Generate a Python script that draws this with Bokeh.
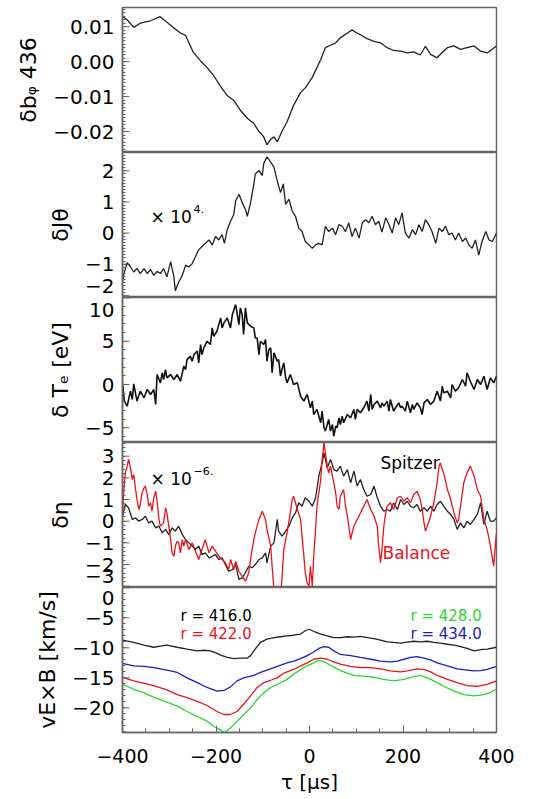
import numpy as np
from bokeh.plotting import figure
from bokeh.layouts import column
from bokeh.models import Label, FixedTicker, CustomJSTickFormatter, Range1d
from bokeh.embed import file_html
from bokeh.resources import INLINE

FONT = "DejaVu Sans"

# ---------------- data ----------------
x_ticks = [-400, -200, 0, 200, 400]

# panel 1: delta b_phi 436
tau_b = [-400, -390, -376, -362, -340, -320, -305, -290, -276, -265,
         -258, -249, -233, -219, -205, -191, -176, -162, -148, -133,
         -119, -108, -98, -91, -84, -76, -69, -59, -48, -34,
         -19, -9, 6, 16, 24, 34, 45, 56, 66, 81,
         91, 98, 109, 123, 138, 152, 166, 180, 195, 209,
         223, 237, 248, 259, 273, 280, 295, 309, 323, 337,
         352, 366, 380, 400]
db = [0.0129, 0.0120, 0.0098, 0.0110, 0.0117, 0.0129, 0.0113, 0.0096, 0.0082, 0.0075,
      0.0054, 0.0028, 0.0002, -0.0017, -0.0040, -0.0069, -0.0097, -0.0111, -0.0139, -0.0162,
      -0.0177, -0.0200, -0.0215, -0.0238, -0.0224, -0.0215, -0.0229, -0.0200, -0.0172, -0.0125,
      -0.0088, -0.0075, -0.0045, -0.0017, 0.0006, 0.0040, 0.0047, 0.0054, 0.0068, 0.0082,
      0.0091, 0.0085, 0.0077, 0.0066, 0.0058, 0.0054, 0.0040, 0.0032, 0.0030, 0.0025,
      0.0028, 0.0019, 0.0044, 0.0021, 0.0011, 0.0021, 0.0040, 0.0045, 0.0035, 0.0040,
      0.0045, 0.0030, 0.0025, 0.0045]
ticks_b = [-0.02, -0.01, 0.0, 0.01]

# panel 2: delta J_theta (x 1e4)
tau_j = [-400, -396, -390, -383, -376, -369, -362, -354, -347, -340,
         -333, -326, -319, -312, -305, -297, -290, -287, -280, -272,
         -265, -258, -251, -244, -237, -230, -223, -215, -208, -201,
         -194, -187, -182, -176, -169, -162, -158, -151, -144, -137,
         -133, -126, -119, -116, -108, -101, -98, -91, -83, -76,
         -69, -62, -56, -51, -44, -37, -30, -23, -16, -9,
         -1, 6, 13, 20, 27, 34, 41, 49, 56, 63,
         70, 77, 84, 91, 98, 106, 113, 120, 127, 134,
         141, 148, 155, 163, 170, 177, 184, 191, 198, 205,
         213, 220, 227, 234, 241, 248, 255, 262, 270, 277,
         284, 291, 298, 305, 312, 319, 327, 334, 341, 348,
         355, 362, 369, 377, 384, 391, 400]
dj = [-1.58, -1.25, -0.95, -1.09, -1.25, -1.14, -1.30, -1.14, -1.30, -1.17,
      -1.36, -1.23, -1.30, -1.14, -1.41, -0.92, -1.41, -1.85, -1.58, -1.36,
      -1.03, -1.09, -0.98, -0.76, -0.54, -0.43, -0.33, -0.22, -0.38, -0.11,
      -0.22, -0.05, -0.33, 0.11, 0.38, 0.60, 1.03, 1.25, 0.98, 0.76,
      0.54, 0.98, 1.58, 1.90, 2.01, 1.85, 2.23, 2.45, 2.28, 2.12,
      1.68, 1.30, 1.58, 0.92, 1.09, 0.71, 0.54, 0.16, 0.05, -0.27,
      -0.38, -0.49, -0.38, -0.33, -0.38, 0.22, 0.05, 0.16, -0.05, 0.27,
      0.22, 0.05, 0.33, -0.11, 0.16, -0.16, 0.33, 0.43, 0.33, 0.54,
      0.27, 0.38, 0.03, 0.49, 0.27, 0.00, 0.49, 0.27, 0.65, 0.00,
      -0.16, 0.11, -0.05, 0.27, 0.05, 0.43, 0.27, 0.05, -0.33, 0.16,
      0.05, 0.22, -0.05, 0.00, -0.22, 0.00, -0.27, -0.16, -0.38, -0.49,
      -0.22, -0.71, -0.27, 0.05, -0.22, -0.27, 0.00]
ticks_j = [-2, -1, 0, 1, 2]

# panel 3: delta T_e [eV]
tau_t = [-400, -396, -390, -383, -379, -376, -369, -362, -354, -347,
         -340, -333, -329, -326, -319, -315, -312, -308, -305, -297,
         -290, -283, -276, -272, -269, -265, -262, -255, -251, -247,
         -240, -237, -233, -230, -226, -219, -212, -208, -205, -198,
         -190, -187, -183, -176, -169, -165, -158, -155, -151, -148,
         -144, -141, -137, -133, -126, -119, -116, -112, -108, -105,
         -98, -94, -91, -87, -83, -80, -76, -69, -66, -62,
         -59, -55, -51, -48, -41, -34, -26, -19, -12, -5,
         2, 6, 9, 16, 24, 27, 31, 34, 41, 45,
         49, 52, 56, 59, 63, 66, 70, 73, 81, 88,
         95, 98, 102, 109, 116, 123, 127, 131, 134, 138,
         145, 152, 155, 159, 166, 170, 173, 180, 184, 191,
         195, 198, 205, 209, 216, 220, 223, 230, 237, 241,
         245, 252, 259, 266, 273, 280, 284, 287, 295, 302,
         305, 312, 319, 327, 334, 337, 344, 352, 359, 366,
         373, 380, 387, 394, 400]
dte = [0.19, -1.92, -2.50, -0.77, -1.73, 0.08, -1.92, -0.77, -1.54, -0.58,
       -1.15, -0.58, -2.31, 1.15, 0.19, 1.35, 0.58, 1.73, 0.77, 1.15,
       0.58, 1.15, 0.38, 1.35, 2.12, 1.73, 2.88, 3.27, 2.69, 3.46,
       3.85, 2.50, 4.62, 3.46, 4.23, 5.00, 4.62, 6.54, 5.58, 6.15,
       7.69, 6.54, 7.12, 7.69, 6.54, 8.08, 9.23, 8.27, 6.92, 8.85,
       8.08, 5.77, 8.85, 7.12, 6.73, 6.54, 5.38, 5.38, 3.46, 5.00,
       4.62, 5.19, 2.69, 4.04, 4.23, 1.35, 3.65, 2.69, 2.88, 0.96,
       1.73, 2.50, 0.77, 0.19, 1.15, 0.00, 0.19, -1.35, -1.92, -1.15,
       -2.69, -1.92, -3.46, -2.88, -4.42, -3.08, -5.00, -5.38, -4.04, -5.38,
       -4.62, -5.96, -4.81, -5.00, -3.85, -4.62, -3.65, -4.42, -3.46, -3.85,
       -2.88, -4.04, -2.88, -3.27, -2.69, -1.92, -3.08, -1.15, -2.88, -2.31,
       -1.92, -2.69, -2.12, -2.50, -1.92, -3.08, -1.73, -3.08, -2.69, -2.12,
       -2.69, -2.50, -3.08, -1.92, -3.27, -2.31, -2.88, -2.12, -2.69, -3.46,
       -2.12, -1.73, -2.31, -1.92, -0.77, -1.92, -0.19, -0.96, -0.77, -1.54,
       0.00, -0.77, -0.38, 0.58, -0.19, 1.35, 0.38, -0.58, 0.58, 0.00,
       0.96, -0.58, 0.77, 0.19, 0.96]
ticks_t = [-5, 0, 5, 10]

# panel 4: delta eta (x 1e-6), Spitzer (black) and Balance (red)
tau_sp = [-400, -394, -387, -379, -372, -365, -358, -351, -344, -337,
          -329, -322, -315, -308, -301, -294, -287, -280, -272, -265,
          -258, -251, -244, -237, -230, -223, -215, -208, -201, -194,
          -187, -180, -173, -165, -158, -151, -144, -137, -130, -123,
          -116, -108, -101, -94, -91, -83, -76, -69, -66, -59,
          -51, -44, -37, -30, -23, -16, -9, -1, 6, 13,
          20, 27, 31, 38, 45, 52, 59, 66, 73, 81,
          88, 95, 102, 109, 116, 123, 131, 138, 145, 152,
          159, 166, 173, 180, 188, 195, 202, 209, 216, 223,
          230, 237, 245, 252, 259, 266, 273, 280, 287, 295,
          302, 309, 316, 323, 330, 337, 344, 352, 359, 366,
          373, 380, 387, 394, 400]
eta_sp = [0.23, 0.77, 0.62, 0.08, 0.15, 0.00, 0.08, 0.23, -0.08, 0.00,
          -0.31, -0.23, -0.54, -0.38, -0.62, -0.31, -0.46, -0.23, -0.62, -0.85,
          -1.00, -1.15, -1.31, -1.15, -1.54, -1.46, -1.69, -1.62, -1.54, -1.77,
          -1.69, -2.00, -2.31, -2.23, -2.00, -2.69, -2.62, -2.38, -2.08, -2.15,
          -2.00, -1.77, -1.69, -1.46, -1.92, -1.15, -1.00, 0.08, -0.46, -0.69,
          -0.46, -0.23, 0.15, 0.38, 0.85, 0.69, 1.08, 0.92, 0.69, 1.08,
          2.08, 2.69, 3.15, 2.46, 2.85, 2.38, 2.31, 2.54, 2.08, 2.38,
          1.77, 2.31, 1.62, 1.92, 1.46, 1.15, 1.23, 1.62, 1.08, 0.69,
          0.46, 0.54, 0.46, 0.85, 0.54, 1.00, 0.77, 0.92, 0.69, 0.62,
          0.77, 0.46, 0.62, 0.46, 0.69, 0.46, 0.77, 0.92, 0.69, 0.46,
          0.31, 0.08, -0.38, -0.08, -0.31, 0.00, -0.15, 0.08, 0.31, 0.85,
          -0.15, 0.46, 0.00, 0.00, 0.15]
tau_bal = [-400, -397, -394, -390, -387, -383, -379, -376, -372, -369,
           -365, -362, -358, -354, -351, -347, -344, -340, -337, -333,
           -329, -326, -322, -319, -312, -308, -305, -301, -297, -294,
           -290, -287, -283, -280, -276, -272, -269, -265, -258, -251,
           -244, -237, -230, -223, -215, -208, -201, -194, -187, -180,
           -173, -169, -162, -158, -151, -144, -137, -130, -126, -123,
           -119, -116, -108, -101, -94, -91, -83, -80, -76, -69,
           -62, -59, -55, -48, -41, -37, -34, -26, -19, -16,
           -12, -9, -5, -1, 2, 6, 9, 13, 16, 20,
           24, 27, 31, 34, 38, 41, 45, 49, 52, 56,
           59, 63, 66, 73, 77, 81, 88, 91, 95, 102,
           109, 116, 123, 131, 138, 145, 148, 152, 155, 159,
           163, 166, 173, 180, 188, 195, 202, 209, 216, 223,
           230, 237, 241, 245, 248, 252, 259, 266, 273, 277,
           280, 284, 287, 295, 302, 309, 316, 319, 323, 330,
           337, 344, 352, 359, 366, 369, 373, 380, 387, 394,
           398, 400]
eta_bal = [0.38, 1.46, 2.23, 2.54, 2.85, 2.46, 1.92, 2.15, 1.46, 1.00,
           0.54, 0.77, 1.31, 1.54, 1.62, 1.23, 0.69, 0.85, 0.46, 1.08,
           1.38, 0.92, 0.08, -0.23, -0.08, 0.62, 0.38, -0.23, -0.85, -1.46,
           -1.62, -1.15, -0.92, -1.00, -1.46, -0.85, -1.15, -0.85, -1.31, -1.00,
           -1.38, -1.77, -1.31, -0.85, -1.46, -1.15, -1.38, -1.62, -1.77, -1.92,
           -2.23, -1.77, -2.23, -1.85, -2.31, -2.54, -2.77, -2.38, -1.77, -1.31,
           -0.85, -0.54, 0.08, 0.46, 0.08, -0.38, -1.15, -2.08, -3.15, -3.62,
           -3.46, -2.69, -1.31, -0.54, 0.38, 1.00, 1.15, 0.54, 0.08, -0.69,
           -1.62, -2.38, -2.85, -3.00, -2.08, -3.00, -1.62, -0.38, 0.69, 1.31,
           1.92, 2.85, 3.62, 3.15, 2.54, 2.23, 2.54, 2.08, 1.77, 1.31,
           0.69, 0.54, 1.15, 1.46, 0.69, 0.23, -0.85, -0.54, -0.23, 0.08,
           0.38, 0.69, 1.00, 0.54, 0.23, -0.23, -1.15, -1.92, -1.31, -0.23,
           0.38, 0.69, 0.85, 0.54, 1.08, 1.15, 0.92, 1.08, 0.85, 1.23,
           1.38, 1.00, 0.54, -0.08, -0.46, -0.23, 0.23, 0.85, 1.77, 2.54,
           2.69, 2.38, 2.23, 1.46, 1.00, 0.38, -0.08, 0.08, 0.69, 1.77,
           2.23, 2.54, 2.08, 1.46, 1.15, 0.69, 0.08, -0.38, -1.15, -2.08,
           -1.00, -0.54]
ticks_eta = [-3, -2, -1, 0, 1, 2, 3]

# panel 5: v_ExB [km/s] at four radii
tau_v416 = [-400, -376, -354, -333, -319, -305, -283, -262, -240, -226,
            -212, -201, -190, -176, -162, -148, -133, -126, -119, -105,
            -91, -76, -62, -48, -34, -19, -9, -1, 6, 13,
            24, 38, 52, 66, 81, 95, 109, 124, 138, 152,
            166, 180, 195, 209, 223, 237, 252, 266, 280, 295,
            309, 323, 337, 352, 366, 380, 400]
v416 = [-8.7, -9.1, -9.55, -9.9, -9.7, -9.55, -9.9, -10.2, -10.5, -10.4,
        -10.5, -10.8, -11.2, -11.6, -11.8, -11.7, -11.7, -11.3, -10.5, -9.1,
        -8.55, -8.3, -8.15, -8.0, -7.9, -7.7, -7.15, -6.9, -7.15, -7.4,
        -7.7, -8.0, -8.3, -8.3, -8.15, -8.2, -8.1, -8.3, -8.45, -8.7,
        -9.0, -9.1, -9.2, -9.05, -8.9, -9.0, -8.9, -9.1, -9.2, -9.4,
        -9.55, -9.8, -10.1, -10.5, -10.3, -10.2, -9.9]
tau_v422 = [-400, -376, -354, -333, -305, -283, -262, -240, -219, -198,
            -183, -169, -155, -141, -126, -112, -98, -83, -69, -55,
            -34, -19, -5, 9, 24, 38, 52, 66, 88, 109,
            131, 152, 173, 195, 209, 230, 245, 259, 273, 295,
            316, 337, 359, 380, 400]
v422 = [-14.9, -15.5, -15.9, -16.3, -17.0, -17.8, -18.3, -18.9, -19.6, -20.6,
        -21.1, -21.1, -20.6, -19.4, -18.0, -16.6, -15.8, -15.4, -15.0, -14.2,
        -13.6, -13.0, -12.5, -11.9, -11.7, -11.9, -12.35, -12.7, -13.1, -13.3,
        -13.3, -13.5, -13.85, -14.0, -13.85, -13.5, -13.6, -14.0, -14.6, -15.25,
        -15.8, -16.3, -16.4, -16.1, -15.5]
tau_v428 = [-400, -376, -354, -333, -305, -283, -262, -240, -219, -205,
            -190, -182, -169, -155, -141, -126, -112, -98, -83, -69,
            -48, -34, -19, -5, 9, 20, 31, 45, 59, 73,
            95, 116, 138, 159, 180, 202, 223, 237, 252, 266,
            287, 309, 330, 352, 373, 387, 400]
v428 = [-16.1, -16.9, -17.5, -18.2, -19.05, -19.7, -20.6, -21.4, -22.2, -23.1,
        -23.7, -24.1, -23.35, -22.2, -21.1, -20.0, -18.6, -17.5, -16.6, -16.1,
        -15.25, -14.4, -13.6, -13.0, -12.5, -12.1, -12.3, -12.9, -13.5, -14.0,
        -14.6, -14.7, -14.9, -15.25, -15.5, -15.25, -14.8, -14.6, -15.0, -15.5,
        -16.4, -17.2, -17.8, -18.0, -17.8, -17.4, -16.9]
tau_v434 = [-400, -376, -354, -333, -305, -283, -262, -240, -219, -198,
            -183, -169, -155, -141, -119, -105, -91, -69, -48, -34,
            -19, -5, 9, 20, 31, 41, 52, 66, 88, 109,
            131, 152, 173, 188, 202, 216, 230, 245, 259, 273,
            295, 316, 337, 352, 366, 380, 400]
v434 = [-12.6, -13.0, -13.1, -13.3, -13.7, -14.1, -15.0, -15.8, -16.6, -17.2,
        -17.1, -16.5, -15.5, -15.0, -14.6, -14.1, -13.7, -13.1, -12.5, -12.2,
        -11.8, -11.3, -10.7, -10.1, -9.8, -9.9, -10.5, -11.1, -11.3, -11.6,
        -11.9, -12.2, -12.35, -12.2, -11.9, -11.6, -11.45, -11.7, -12.0, -12.5,
        -13.0, -13.5, -13.7, -13.85, -13.8, -13.6, -13.1]
ticks_v = [-20, -15, -10, -5, 0]

y_titles = ["δbᵩ 436", "δJθ", "δ Tₑ [eV]", "δη", "vE×B [km/s]"]

# tick labels that sit on a panel boundary: (tick value, page y of the nudged label centre)
edge_ticks = {1: (-2, 285), 2: (10, 309), 3: (-3, 575), 4: (0, 597)}

# ---------------- layout / style ----------------
RED = "#e8141c"
GREEN = "#2bd62b"
BLUE = "#1c1cc8"
AXC = "#666666"
X_RANGE = (-400, 400)
LEFT = 122          # page x of the frames' left edge
TOP0 = 7            # page y of the first frame's top edge
FRAME_W = 374
FRAME_H = 145
BOTTOM_BORDER = 66
RIGHT_BORDER = 20
STANDOFF = 8
MAJOR_TICK_PX = 7
Y_RANGES = [(-0.0260, 0.0155), (-2.07, 2.59), (-6.70, 10.05), (-3.06, 3.63), (-24.1, 0.05)]


def frame_top(i):
    return TOP0 + FRAME_H * i


def page_to_data(i, px, py):
    x0, x1 = X_RANGE
    y0, y1 = Y_RANGES[i]
    x = x0 + (px - LEFT) / FRAME_W * (x1 - x0)
    y = y1 - (py - frame_top(i)) / FRAME_H * (y1 - y0)
    return x, y


def add_text(p, i, px, py, text, size, color="black"):
    x, y = page_to_data(i, px, py)
    p.add_layout(Label(x=x, y=y, text=text, text_font=FONT, text_font_size=f"{size}px",
                       text_color=color, text_align="left", text_baseline="alphabetic"))


def fmt(digits, nudged=None, label=""):
    nv = "null" if nudged is None else repr(float(nudged))
    code = (f"const nv = {nv};"
            f"if (nv !== null && Math.abs(tick - nv) < 1e-9) {{ return '{label}'; }}"
            f"return tick.toFixed({digits}).replace('-', '\\u2212');")
    return CustomJSTickFormatter(code=code)


def make_panel(i, yticks, minor_step, digits):
    y0, y1 = Y_RANGES[i]
    bottom = (i == 4)
    p = figure(frame_width=FRAME_W, frame_height=FRAME_H,
               x_range=Range1d(*X_RANGE), y_range=Range1d(y0, y1),
               output_backend="svg", toolbar_location=None,
               x_axis_location="below" if bottom else None,
               min_border_left=LEFT, min_border_right=RIGHT_BORDER,
               min_border_top=TOP0 if i == 0 else 0,
               min_border_bottom=BOTTOM_BORDER if bottom else 0)
    p.grid.visible = False
    p.outline_line_color = AXC
    p.outline_line_width = 1.5
    m0 = np.ceil(y0 / minor_step) * minor_step
    minor = [float(v) for v in np.arange(m0, y1, minor_step)]

    # label positions: true tick values, except a boundary tick whose label is nudged inward
    label_pos = list(yticks)
    nudged, nud_label = None, ""
    if i in edge_ticks:
        tval, py = edge_ticks[i]
        nudged = page_to_data(i, 0, py)[1]
        nud_label = f"{tval:.{digits}f}".replace("-", "\u2212")
        label_pos = [nudged if t == tval else t for t in yticks]

    yax = p.yaxis[0]
    yax.ticker = FixedTicker(ticks=label_pos, minor_ticks=minor)
    yax.formatter = fmt(digits, nudged, nud_label)
    yax.axis_line_color = AXC
    yax.axis_line_width = 1.5
    yax.major_tick_line_color = None
    yax.major_tick_in = 0
    yax.major_tick_out = 0
    yax.minor_tick_line_color = AXC
    yax.minor_tick_in = 3
    yax.minor_tick_out = 0
    yax.major_label_standoff = STANDOFF
    yax.major_label_text_font = FONT
    yax.major_label_text_font_size = "20px"
    yax.major_label_text_color = "black"
    yax.axis_label = y_titles[i]
    yax.axis_label_text_font = FONT
    yax.axis_label_text_font_size = "22px"
    yax.axis_label_text_font_style = "normal"
    yax.axis_label_text_color = "black"
    yax.axis_label_standoff = 9

    # major tick marks at the true tick values, pointing into the frame
    tick_len = MAJOR_TICK_PX / FRAME_W * (X_RANGE[1] - X_RANGE[0])
    p.segment(x0=[X_RANGE[0]] * len(yticks), y0=list(yticks),
              x1=[X_RANGE[0] + tick_len] * len(yticks), y1=list(yticks),
              line_color=AXC, line_width=1)

    if bottom:
        xax = p.xaxis[0]
        xax.ticker = FixedTicker(ticks=x_ticks, minor_ticks=list(range(-400, 401, 50)))
        xax.formatter = fmt(0)
        xax.axis_line_color = AXC
        xax.axis_line_width = 1.5
        xax.major_tick_line_color = AXC
        xax.minor_tick_line_color = AXC
        xax.major_tick_in = 7
        xax.major_tick_out = 0
        xax.minor_tick_in = 4
        xax.minor_tick_out = 0
        xax.major_label_standoff = 16
        xax.major_label_text_font = FONT
        xax.major_label_text_font_size = "19px"
        xax.major_label_text_color = "black"
        xax.axis_label = "τ [μs]"
        xax.axis_label_text_font = FONT
        xax.axis_label_text_font_size = "20px"
        xax.axis_label_text_font_style = "normal"
        xax.axis_label_text_color = "black"
        xax.axis_label_standoff = 4
    return p


# panel 1
p1 = make_panel(0, ticks_b, 0.001, 2)
p1.line(tau_b, db, line_color="#222222", line_width=1.3)

# panel 2
p2 = make_panel(1, ticks_j, 0.1, 0)
p2.line(tau_j, dj, line_color="#222222", line_width=1.3)
add_text(p2, 1, 150, 216, "× 10", 17)
add_text(p2, 1, 193, 208, "4.", 11)

# panel 3
p3 = make_panel(2, ticks_t, 1.0, 0)
p3.line(tau_t, dte, line_color="#111111", line_width=1.6)

# panel 4
p4 = make_panel(3, ticks_eta, 0.2, 0)
p4.line(tau_sp, eta_sp, line_color="#222222", line_width=1.3)
p4.line(tau_bal, eta_bal, line_color=RED, line_width=1.3)
add_text(p4, 3, 150, 478, "× 10", 17)
add_text(p4, 3, 193, 470, "−6.", 11)
add_text(p4, 3, 380, 462, "Spitzer", 17)
add_text(p4, 3, 382, 552, "Balance", 17, color=RED)

# panel 5
p5 = make_panel(4, ticks_v, 1.0, 0)
p5.line(tau_v416, v416, line_color="#222222", line_width=1.3)
p5.line(tau_v434, v434, line_color=BLUE, line_width=1.3)
p5.line(tau_v422, v422, line_color=RED, line_width=1.3)
p5.line(tau_v428, v428, line_color=GREEN, line_width=1.3)
add_text(p5, 4, 180, 615, "r = 416.0", 15)
add_text(p5, 4, 180, 633, "r = 422.0", 15, color=RED)
add_text(p5, 4, 410, 615, "r = 428.0", 15, color=GREEN)
add_text(p5, 4, 410, 633, "r = 434.0", 15, color=BLUE)

layout = column(p1, p2, p3, p4, p5, spacing=0)

open("out.html", "w").write(file_html(layout, INLINE))
